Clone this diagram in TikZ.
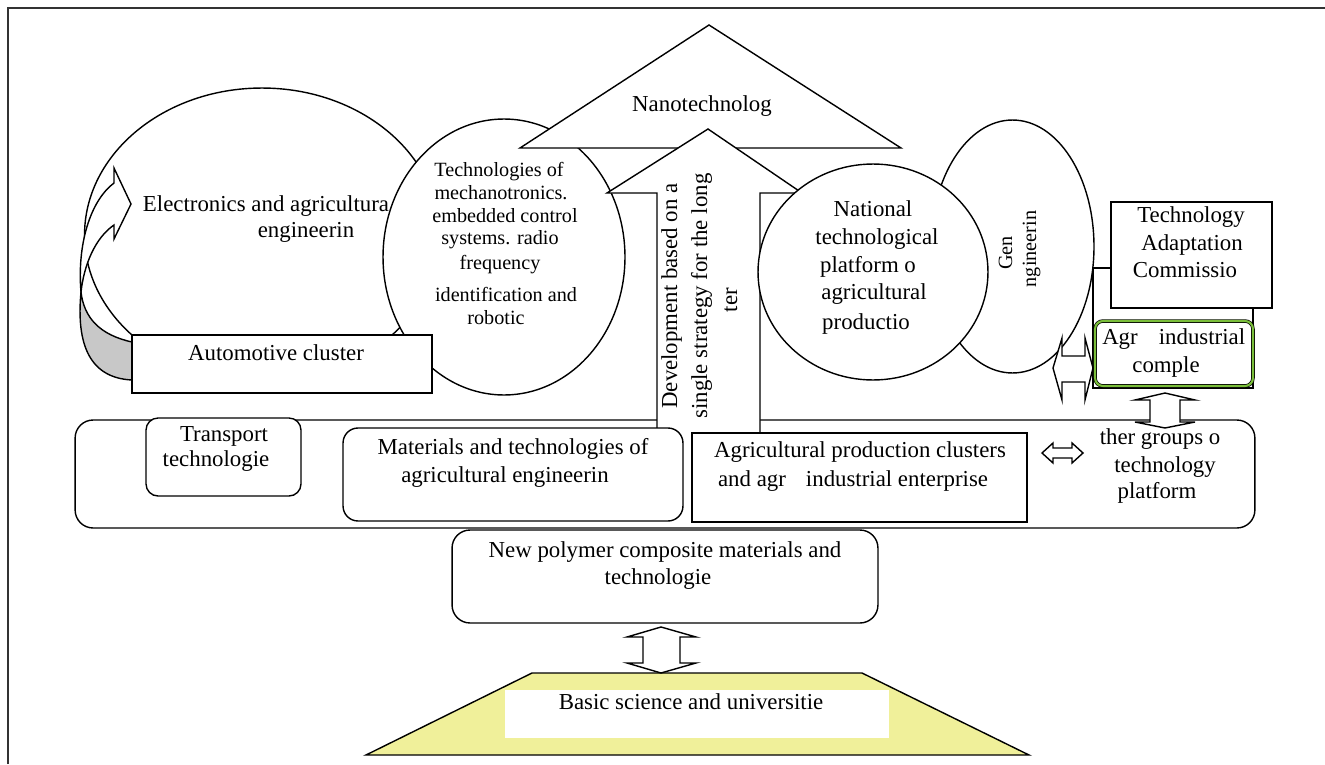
\documentclass[tikz,border=0pt]{standalone}
\usepackage{fontspec}
\setmainfont{Liberation Serif}
\usetikzlibrary{shapes.geometric}
\definecolor{trapyellow}{RGB}{240,240,154}
\definecolor{agrogreen}{RGB}{122,190,58}
\definecolor{framegray}{RGB}{50,50,50}
\definecolor{shadegray}{RGB}{200,200,200}
\begin{document}
\begin{tikzpicture}[x=0.02cm,y=-0.02cm, line width=0.8pt,
  shp/.style={draw=black, fill=white, inner sep=0pt, outer sep=0pt},
  oval/.style={shp, ellipse},
  box/.style={shp, rectangle},
  rbox/.style={shp, rectangle, rounded corners=#1},
  txt/.style={inner sep=0pt, font=\fontsize{13}{15}\selectfont, text height=0.68em, text depth=0.22em},
  stxt/.style={inner sep=0pt, font=\fontsize{11.5}{13}\selectfont, text height=0.68em, text depth=0.22em},
  blockarrow/.style={draw=black, fill=white, line join=miter}
]
\useasboundingbox (0,0) rectangle (1325,764);
% frame
\draw[framegray, line width=1.2pt] (8,764) -- (8,8) -- (1325,8);

% left cluster
\node[oval, minimum width=7.1cm, minimum height=5.88cm] (elec) at (262,235) {};
\node[oval, minimum width=4.84cm, minimum height=5.52cm] (mech) at (504,257) {};
% curved arrow
\draw[fill=shadegray] (81,292) .. controls (76,345) and (90,378) .. (132,380) -- (132,342) .. controls (100,335) and (84,318) .. (81,292) -- cycle;
\draw[fill=white, line join=miter] (114,183) .. controls (90,201) and (77,245) .. (81,292)
   .. controls (84,265) and (95,238) .. (114,225) -- (114,239) -- (131,204) -- (114,168) -- cycle;
\node[box, minimum width=6cm, minimum height=1.16cm] (auto) at (282,364) {};

% nanotechnology triangle
\draw[fill=white, line join=miter] (520,148) -- (709,25) -- (901,148) -- cycle;
\coordinate (nano) at (702,107);

% wide platform box
\node[rbox=0.36cm, minimum width=23.6cm, minimum height=2.16cm] (wide) at (665,474) {};

% big upward arrow
\draw[blockarrow] (657,433) -- (657,193) -- (607,193) -- (708,129) -- (802,193) -- (760,193) -- (760,433);

% right cluster
\node[oval, minimum width=3.26cm, minimum height=5.06cm] (gen) at (1012.5,246.5) {};
\node[oval, minimum width=4.6cm, minimum height=4.32cm] (natl) at (873,272) {};
\node[box, minimum width=3.2cm, minimum height=2.4cm] (back) at (1173,328) {};
\node[box, minimum width=3.22cm, minimum height=2.12cm] (comm) at (1191.5,255) {};
\node[rbox=0.16cm, minimum width=3.16cm, minimum height=1.3cm, line width=0.4pt, double=agrogreen, double distance=1.2pt] (agro) at (1174,353.5) {};

% double block arrows
\draw[blockarrow] (1053,368) -- (1062,338) -- (1062,356) -- (1085,356) -- (1085,338) -- (1093,368)
   -- (1085,400) -- (1085,382) -- (1062,382) -- (1062,400) -- cycle;
\draw[blockarrow] (1165,393) -- (1195,400) -- (1180,400) -- (1180,422) -- (1195,422) -- (1165,428)
   -- (1135,422) -- (1150,422) -- (1150,400) -- (1135,400) -- cycle;
\draw[blockarrow] (1042,453) -- (1053,443) -- (1053,448) -- (1072,448) -- (1072,443) -- (1083,453)
   -- (1072,463) -- (1072,458) -- (1053,458) -- (1053,463) -- cycle;

% inner boxes
\node[rbox=0.24cm, minimum width=3.1cm, minimum height=1.56cm] (trans) at (223.5,457) {};
\node[rbox=0.3cm, minimum width=6.8cm, minimum height=1.86cm] (mat) at (513,474.5) {};
\node[box, minimum width=6.7cm, minimum height=1.78cm] (agprod) at (859.5,477.5) {};

% bottom
\node[rbox=0.36cm, minimum width=8.52cm, minimum height=1.86cm] (poly) at (665,576.5) {};
\draw[fill=trapyellow, line join=miter] (532,673) -- (862,673) -- (1029,755) -- (366,755) -- cycle;
\node[fill=white, inner sep=0pt, minimum width=7.68cm, minimum height=0.96cm] (basic) at (697,714) {};
\draw[blockarrow] (661,627) -- (696,637) -- (680,637) -- (680,663) -- (696,663) -- (661,673)
   -- (627,663) -- (643,663) -- (643,637) -- (627,637) -- cycle;

% texts
\node[txt] at (nano) {Nanotechnolog};
\node[txt] at (266,207) {Electronics and agricultura};
\node[txt] at (306,233) {engineerin};
\node[stxt] at (499,172) {Technologies of};
\node[stxt] at (501,195) {mechanotronics.};
\node[stxt] at (505,218) {embedded control};
\node[stxt] at (500,240) {systems. radio};
\node[stxt] at (500,265) {frequency};
\node[stxt] at (506,297) {identification and};
\node[stxt] at (496,320) {robotic};
\node[txt] at (276,356) {Automotive cluster};
\node[txt, rotate=90] at (673,296) {Development based on a};
\node[txt, rotate=90] at (703,296) {single strategy for the long};
\node[txt, rotate=90] at (733,300) {ter};
\node[txt] at (873,212) {National};
\node[txt] at (877,240) {technological};
\node[txt] at (868,268) {platform o};
\node[txt] at (874,295) {agricultural};
\node[txt] at (866,325) {productio};
\node[stxt, rotate=90] at (1008,253) {Gen};
\node[stxt, rotate=90] at (1032,249) {ngineerin};
\node[txt] at (1191,218) {Technology};
\node[txt] at (1192,246) {Adaptation};
\node[txt] at (1185,273) {Commissio};
\node[txt] at (1120,340) {Agr};
\node[txt] at (1202,340) {industrial};
\node[txt] at (1166,368) {comple};
\node[txt] at (224,437) {Transport};
\node[txt] at (216,462) {technologie};
\node[txt] at (513,450) {Materials and technologies of};
\node[txt] at (505,478) {agricultural engineerin};
\node[txt] at (860,453) {Agricultural production clusters};
\node[txt] at (752,482) {and agr};
\node[txt] at (897,482) {industrial enterprise};
\node[txt] at (1160,440) {ther groups o};
\node[txt] at (1165,468) {technology};
\node[txt] at (1157,494) {platform};
\node[txt] at (665,553) {New polymer composite materials and};
\node[txt] at (658,580) {technologie};
\node[txt] at (691,705) {Basic science and universitie};
\end{tikzpicture}
\end{document}
